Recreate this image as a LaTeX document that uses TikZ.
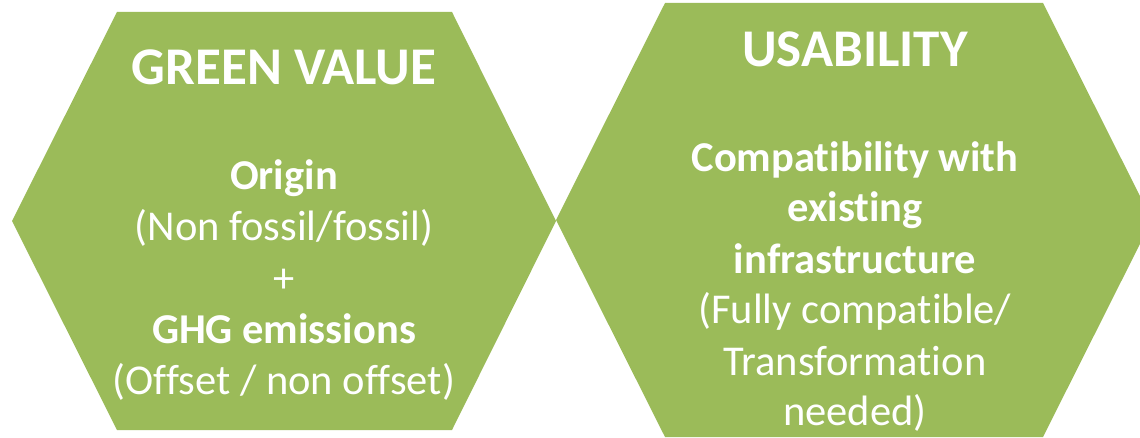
\documentclass[tikz,border=0pt]{standalone}
\usepackage{fontspec}
\setmainfont{Carlito}[Ligatures=NoCommon]
\definecolor{hexgreen}{RGB}{155,187,89}
\tikzset{
  hexfill/.style={fill=hexgreen},
  headline/.style={text=white, inner sep=0pt, anchor=base, font=\bfseries\fontsize{53}{60}\selectfont},
  boldline/.style={text=white, inner sep=0pt, anchor=base, font=\bfseries\fontsize{42.5}{48}\selectfont},
  plainline/.style={text=white, inner sep=0pt, anchor=base, font=\fontsize{42.5}{48}\selectfont},
}
\begin{document}
\begin{tikzpicture}[x=1pt,y=-1pt]
  \useasboundingbox (0,0) rectangle (1140,438);
  \clip (0,0) rectangle (1140,438);
  % the two hexagons, touching at their inner points
  \fill[hexfill] (12,221) -- (117,12) -- (452,12) -- (556,221) -- (452,430) -- (117,430) -- cycle;
  \fill[hexfill] (556,220) -- (665,3) -- (1043,3) -- (1152,220) -- (1043,437) -- (665,437) -- cycle;
  % left hexagon
  \node[headline] (green) at (284,85) {GREEN VALUE};
  \node[boldline] (origin) at (284,190) {Origin};
  \node[plainline] (fossil) at (284,241) {(Non fossil/fossil)};
  \node[plainline] (plus) at (284,292) {+};
  \node[boldline] (ghg) at (284,343) {GHG emissions};
  \node[plainline] (offset) at (284,394) {(Offset / non offset)};
  % right hexagon
  \node[headline] (usab) at (855,67) {USABILITY};
  \node[boldline] (compat) at (855,172) {Compatibility with};
  \node[boldline] (exist) at (855,222) {existing};
  \node[boldline] (infra) at (855,273) {infrastructure};
  \node[plainline] (fully) at (855,323) {(Fully compatible/};
  \node[plainline] (transf) at (855,375) {Transformation};
  \node[plainline] (needed) at (855,425) {needed)};
\end{tikzpicture}
\end{document}
